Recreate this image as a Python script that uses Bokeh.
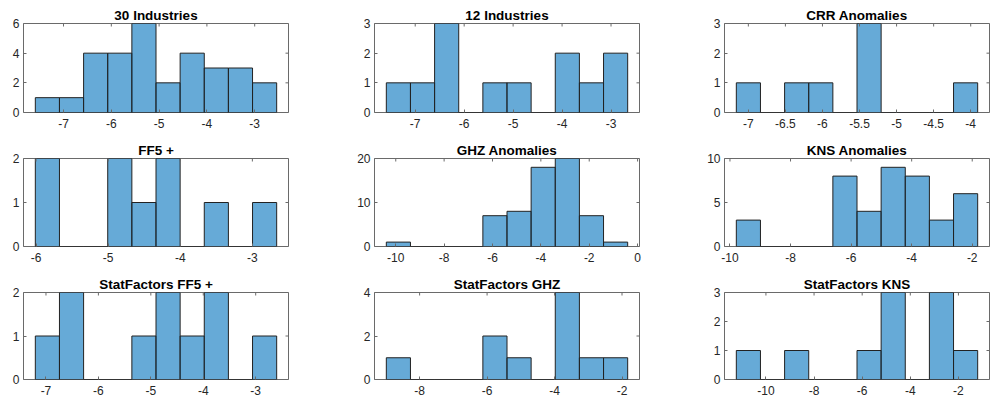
import numpy as np
from bokeh.plotting import figure
from bokeh.models import Range1d, FixedTicker
from bokeh.layouts import column, row
from bokeh.embed import file_html
from bokeh.resources import INLINE

# ---------------- data ----------------
titles = ["30 Industries", "12 Industries", "CRR Anomalies",
          "FF5 +", "GHZ Anomalies", "KNS Anomalies",
          "StatFactors FF5 +", "StatFactors GHZ", "StatFactors KNS"]

counts_30ind = [1, 1, 4, 4, 6, 2, 4, 3, 3, 2]
counts_12ind = [1, 1, 3, 0, 1, 1, 0, 2, 1, 2]
counts_crr = [1, 0, 1, 1, 0, 3, 0, 0, 0, 1]
counts_ff5 = [2, 0, 0, 2, 1, 2, 0, 1, 0, 1]
counts_ghz = [1, 0, 0, 0, 7, 8, 18, 20, 7, 1]
counts_kns = [3, 0, 0, 0, 8, 4, 9, 8, 3, 6]
counts_sf_ff5 = [1, 2, 0, 0, 1, 2, 1, 2, 0, 1]
counts_sf_ghz = [1, 0, 0, 0, 2, 1, 0, 4, 1, 1]
counts_sf_kns = [1, 0, 1, 0, 0, 1, 3, 0, 3, 1]

# first and last bin edge of each histogram (10 equal bins)
edges_30ind = [-7.59, -2.54]
edges_12ind = [-7.59, -2.66]
edges_crr = [-7.162, -3.906]
edges_ff5 = [-6.01, -2.663]
edges_ghz = [-10.39, -0.41]
edges_kns = [-9.79, -1.82]
edges_sf_ff5 = [-7.203, -2.60]
edges_sf_ghz = [-8.987, -1.832]
edges_sf_kns = [-11.23, -1.20]

xticks_30ind = [-7, -6, -5, -4, -3]
xticks_12ind = [-7, -6, -5, -4, -3]
xticks_crr = [-7, -6.5, -6, -5.5, -5, -4.5, -4]
xticks_ff5 = [-6, -5, -4, -3]
xticks_ghz = [-10, -8, -6, -4, -2, 0]
xticks_kns = [-10, -8, -6, -4, -2]
xticks_sf_ff5 = [-7, -6, -5, -4, -3]
xticks_sf_ghz = [-8, -6, -4, -2]
xticks_sf_kns = [-10, -8, -6, -4, -2]

yticks_30ind = [0, 2, 4, 6]
yticks_12ind = [0, 1, 2, 3]
yticks_crr = [0, 1, 2, 3]
yticks_ff5 = [0, 1, 2]
yticks_ghz = [0, 10, 20]
yticks_kns = [0, 5, 10]
yticks_sf_ff5 = [0, 1, 2]
yticks_sf_ghz = [0, 2, 4]
yticks_sf_kns = [0, 1, 2, 3]

counts_all = [counts_30ind, counts_12ind, counts_crr, counts_ff5, counts_ghz,
              counts_kns, counts_sf_ff5, counts_sf_ghz, counts_sf_kns]
edges_all = [edges_30ind, edges_12ind, edges_crr, edges_ff5, edges_ghz,
             edges_kns, edges_sf_ff5, edges_sf_ghz, edges_sf_kns]
xticks_all = [xticks_30ind, xticks_12ind, xticks_crr, xticks_ff5, xticks_ghz,
              xticks_kns, xticks_sf_ff5, xticks_sf_ghz, xticks_sf_kns]
yticks_all = [yticks_30ind, yticks_12ind, yticks_crr, yticks_ff5, yticks_ghz,
              yticks_kns, yticks_sf_ff5, yticks_sf_ghz, yticks_sf_kns]

# ---------------- style / layout ----------------
FONT = "Liberation Sans"
FRAME = "#6a6a6a"
BAR_FILL = "#0072BD"
BAR_EDGE = "#222222"
PAD_FRAC = 0.049
TICK = 3

col_borders = [(23, 56), (30, 55), (30, 1)]
col_widths = [344, 350, 296]
row_borders = [(23, 22), (24, 22), (24, 19)]
row_heights = [134, 134, 130]


def style_axis(ax, ticks):
    ax.ticker = FixedTicker(ticks=ticks)
    ax.axis_line_color = None
    ax.major_tick_in = TICK
    ax.major_tick_out = 0
    ax.major_tick_line_color = FRAME
    ax.major_tick_line_width = 1
    ax.minor_tick_line_color = None
    ax.major_label_text_font = FONT
    ax.major_label_text_font_size = "12px"
    ax.major_label_text_color = "#262626"
    ax.major_label_overrides = {float(t): f"{t:g}" for t in ticks}


def make_panel(i):
    r, c = divmod(i, 3)
    bl, br = col_borders[c]
    bt, bb = row_borders[r]
    w, h = col_widths[c], row_heights[r]
    counts = counts_all[i]
    lo, hi = edges_all[i]
    edges = np.linspace(lo, hi, len(counts) + 1)
    pad = PAD_FRAC * (hi - lo)
    yt = yticks_all[i]
    xt = xticks_all[i]
    x0, x1 = lo - pad, hi + pad
    y0, y1 = yt[0], yt[-1]

    p = figure(width=w, height=h, title=titles[i],
               x_range=Range1d(x0, x1), y_range=Range1d(y0, y1),
               toolbar_location=None, output_backend="svg",
               min_border_left=bl, min_border_right=br,
               min_border_top=bt, min_border_bottom=bb)
    p.title.align = "center"
    p.title.text_font = FONT
    p.title.text_font_style = "bold"
    p.title.text_font_size = "13.5px"
    p.title.text_color = "black"
    p.title.standoff = 1
    p.title.offset = 0

    p.xgrid.visible = False
    p.ygrid.visible = False
    p.outline_line_color = FRAME
    p.outline_line_width = 1
    p.background_fill_color = "white"
    p.border_fill_color = "white"

    style_axis(p.xaxis[0], xt)
    style_axis(p.yaxis[0], yt)
    p.xaxis[0].major_label_standoff = 6
    p.yaxis[0].major_label_standoff = 4

    p.quad(left=edges[:-1], right=edges[1:], bottom=0, top=counts,
           fill_color=BAR_FILL, fill_alpha=0.6,
           line_color=BAR_EDGE, line_width=1)

    # mirrored tick marks on the top and right edges of the box
    p.scatter(x=xt, y=[y1] * len(xt), marker="dash", angle=np.pi / 2,
              size=2 * TICK, line_color=FRAME, line_width=1)
    p.scatter(x=[x1] * len(yt), y=yt, marker="dash",
              size=2 * TICK, line_color=FRAME, line_width=1)
    return p


panels = [make_panel(i) for i in range(9)]
layout = column(row(*panels[0:3]), row(*panels[3:6]), row(*panels[6:9]))

open("out.html", "w").write(file_html(layout, INLINE))
